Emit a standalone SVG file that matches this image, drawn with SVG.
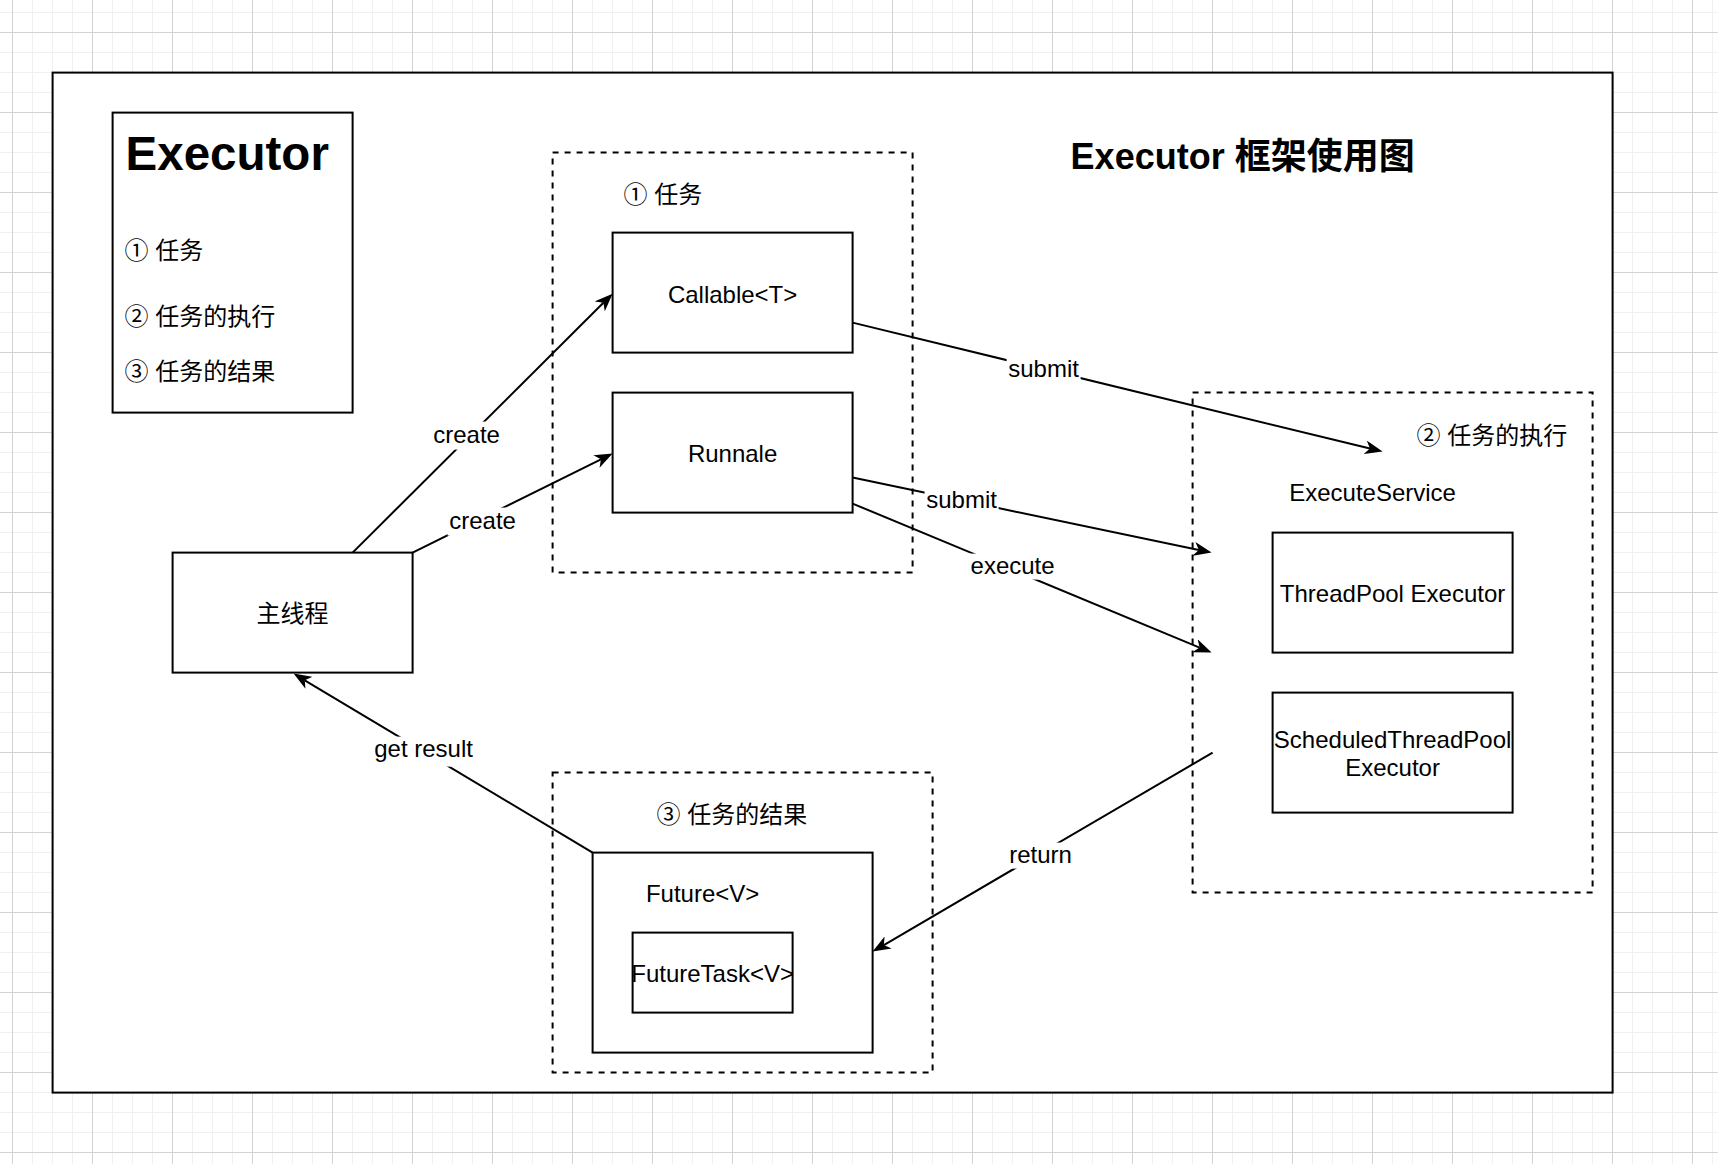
<svg xmlns="http://www.w3.org/2000/svg" width="1718" height="1164" viewBox="0 0 1718 1164">
<defs>
<pattern id="grid" patternUnits="userSpaceOnUse" x="12" y="32" width="80" height="80">
<rect width="80" height="80" fill="#ffffff"/>
<path d="M20.5,0V80M40.5,0V80M60.5,0V80M0,20.5H80M0,40.5H80M0,60.5H80" stroke="#f0f0f0" stroke-width="1" fill="none"/>
<path d="M0.5,0V80M0,0.5H80" stroke="#d3d3d3" stroke-width="1" fill="none"/>
</pattern>
<marker id="arrow" markerUnits="userSpaceOnUse" viewBox="0 0 18 14" markerWidth="18" markerHeight="14" refX="5" refY="7" orient="auto">
<path d="M0,0 L18,7 L0,14 L5,7 Z" fill="#000000"/>
</marker>
</defs>
<style>
.box{fill:#ffffff;stroke:#000000;stroke-width:2}
.dash{fill:none;stroke:#000000;stroke-width:2;stroke-dasharray:6 6}
.t{font-family:"Liberation Sans",Arial,"Noto Sans CJK SC",sans-serif;font-size:24px;fill:#000000}
.c{text-anchor:middle}
.edge{fill:none;stroke:#000000;stroke-width:2;marker-end:url(#arrow)}
.lbg{fill:#ffffff}
</style>
<rect width="1718" height="1164" fill="url(#grid)"/>
<g transform="translate(0.6,0.6)">
<g id="frame"><rect class="box" x="52" y="72" width="1560" height="1020"/></g>
<g id="legend">
<rect class="box" x="112" y="112" width="240" height="300"/>
<text class="t" x="125" y="169" style="font-size:47.5px;font-weight:bold">Executor</text>
<text class="t" x="124" y="258">① 任务</text>
<text class="t" x="124" y="324">② 任务的执行</text>
<text class="t" x="124" y="379">③ 任务的结果</text>
</g>
<g id="title"><text class="t" x="1070" y="168" style="font-size:36px;font-weight:bold">Executor 框架使用图</text></g>
<g id="task-group">
<rect class="dash" x="552" y="152" width="360" height="420"/>
<text class="t" x="623" y="202">① 任务</text>
</g>
<g id="callable"><rect class="box" x="612" y="232" width="240" height="120"/><text class="t c" x="732" y="302">Callable&lt;T&gt;</text></g>
<g id="runnable"><rect class="box" x="612" y="392" width="240" height="120"/><text class="t c" x="732" y="461">Runnale</text></g>
<g id="main-thread"><rect class="box" x="172" y="552" width="240" height="120"/><text class="t c" x="292" y="621">主线程</text></g>
<g id="exec-group">
<rect class="dash" x="1192" y="392" width="400" height="500"/>
<text class="t" x="1416" y="443">② 任务的执行</text>
<text class="t c" x="1372" y="500">ExecuteService</text>
</g>
<g id="threadpool"><rect class="box" x="1272" y="532" width="240" height="120"/><text class="t c" x="1392" y="601">ThreadPool Executor</text></g>
<g id="scheduled"><rect class="box" x="1272" y="692" width="240" height="120"/><text class="t c" x="1392" y="747">ScheduledThreadPool</text><text class="t c" x="1392" y="775">Executor</text></g>
<g id="result-group">
<rect class="dash" x="552" y="772" width="380" height="300"/>
<text class="t" x="656" y="822">③ 任务的结果</text>
</g>
<g id="future"><rect class="box" x="592" y="852" width="280" height="200"/><text class="t c" x="702" y="901">Future&lt;V&gt;</text></g>
<g id="futuretask"><rect class="box" x="632" y="932" width="160" height="80"/><text class="t c" x="712" y="981">FutureTask&lt;V&gt;</text></g>
<g id="connectors">
<path class="edge" d="M352,552 L602.8,302.2"/>
<path class="edge" d="M412,552 L600.35,458.77"/>
<path class="edge" d="M852,322 L1369.37,447.93"/>
<path class="edge" d="M852,477 L1198.27,549.34"/>
<path class="edge" d="M852,503 L1198.99,647.02"/>
<path class="edge" d="M1212,752 L883.22,944.43"/>
<path class="edge" d="M592,852 L304.15,679.68"/>
<rect class="lbg" x="431" y="421" width="70" height="28"/>
<text class="t c" x="466" y="442">create</text>
<rect class="lbg" x="447" y="507" width="70" height="28"/>
<text class="t c" x="482" y="528">create</text>
<rect class="lbg" x="1006" y="355" width="74" height="28"/>
<text class="t c" x="1043" y="376">submit</text>
<rect class="lbg" x="924" y="486" width="74" height="28"/>
<text class="t c" x="961" y="507">submit</text>
<rect class="lbg" x="968" y="553" width="88" height="26"/>
<text class="t c" x="1012" y="573">execute</text>
<rect class="lbg" x="1007" y="842" width="66" height="26"/>
<text class="t c" x="1040" y="862">return</text>
<rect class="lbg" x="372" y="736" width="102" height="30"/>
<text class="t c" x="423" y="756">get result</text>
</g>
</g>
</svg>
